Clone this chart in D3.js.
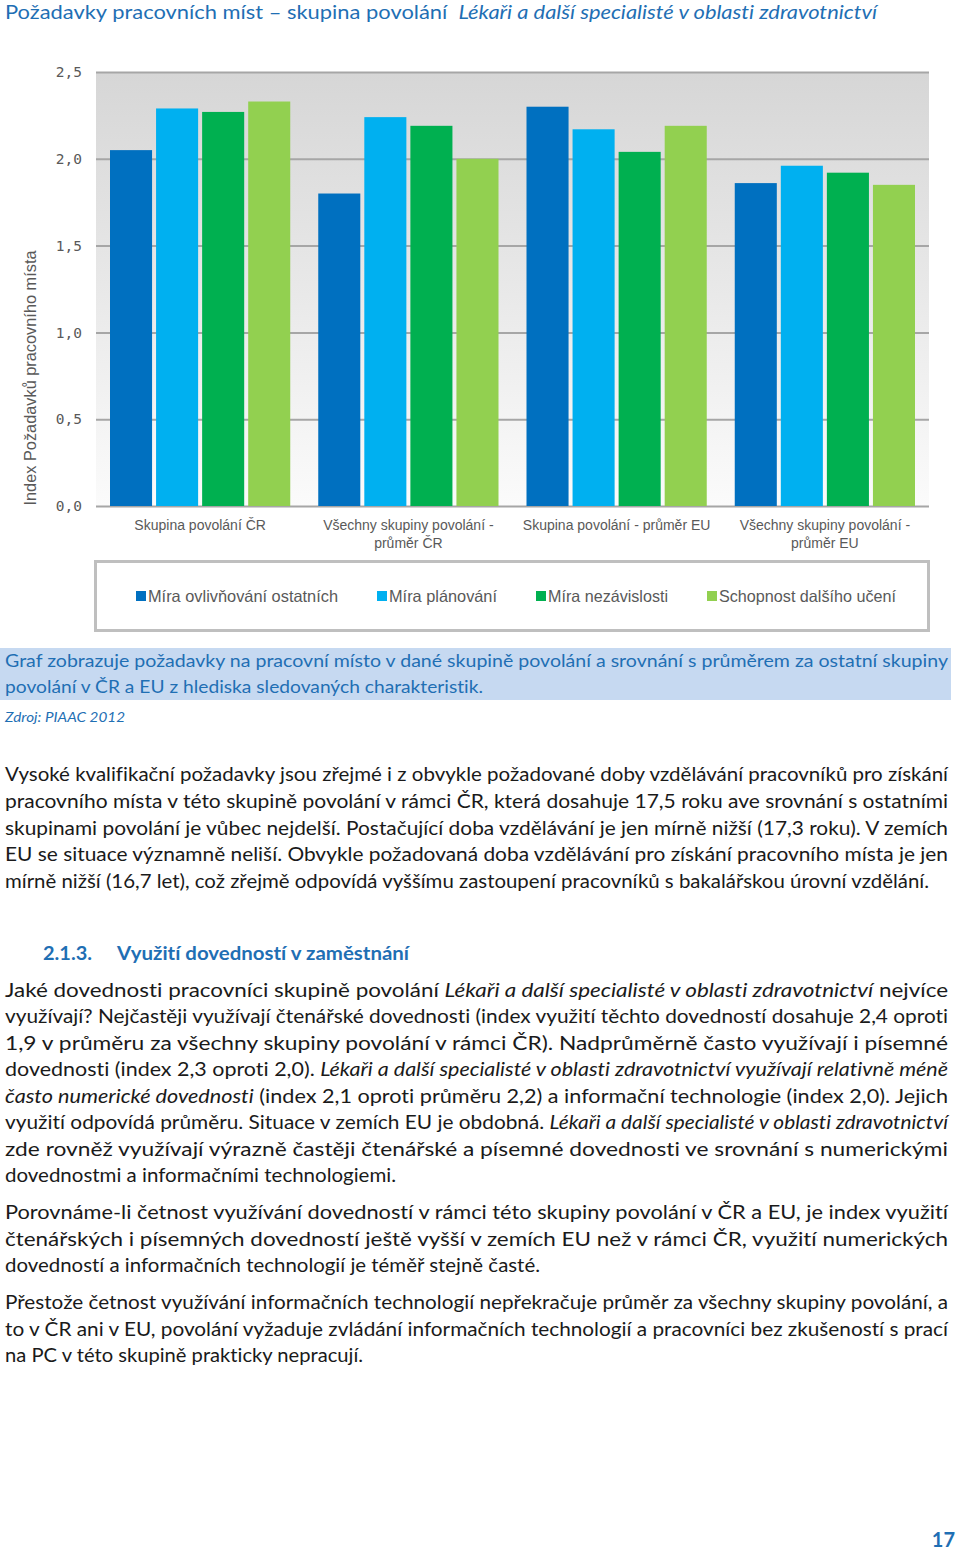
<!DOCTYPE html>
<html><head><meta charset="utf-8">
<script src="https://cdn.jsdelivr.net/npm/d3@7"></script>
<style>body{margin:0;background:#fff}svg{display:block}text{font-variant-ligatures:none;font-feature-settings:"liga" 0}</style>
</head><body>
<script>
// ---------- DATA ----------
const categories = [["Skupina povolání ČR"], ["Všechny skupiny povolání -", "průměr ČR"], ["Skupina povolání - průměr EU"], ["Všechny skupiny povolání -", "průměr EU"]];
const seriesNames = ["Míra ovlivňování ostatních", "Míra plánování", "Míra nezávislosti", "Schopnost dalšího učení"];
const seriesColors = ["#0070c0", "#00b0f0", "#00b050", "#92d050"];
const vOvlivnovani = [2.05, 1.80, 2.30, 1.86];
const vPlanovani   = [2.29, 2.24, 2.17, 1.96];
const vNezavislost = [2.27, 2.19, 2.04, 1.92];
const vUceni       = [2.33, 2.00, 2.19, 1.85];
const seriesValues = [vOvlivnovani, vPlanovani, vNezavislost, vUceni];
const yTicks = [0, 0.5, 1.0, 1.5, 2.0, 2.5];
const yTickLabels = ["0,0", "0,5", "1,0", "1,5", "2,0", "2,5"];
const yTitle = "Index Požadavků pracovního místa";

const titleMain = "Požadavky pracovních míst – skupina povolání";
const titleItalic = "Lékaři a další specialisté v oblasti zdravotnictví";
const captionLines = ["Graf zobrazuje požadavky na pracovní místo v dané skupině povolání a srovnání s průměrem za ostatní skupiny", "povolání v ČR a EU z hlediska sledovaných charakteristik."];
const sourceText = "Zdroj: PIAAC 2012";
const headingNum = "2.1.3.";
const headingText = "Využití dovedností v zaměstnání";
// paragraphs: each line = segments [text, italic], plus end (1 = justified)
const para1 = [
  [[["Vysoké kvalifikační požadavky jsou zřejmé i z obvykle požadované doby vzdělávání pracovníků pro získání",0]], 1],
  [[["pracovního místa v této skupině povolání v rámci ČR, která dosahuje 17,5 roku ave srovnání s ostatními",0]], 1],
  [[["skupinami povolání je vůbec nejdelší. Postačující doba vzdělávání je jen mírně nižší (17,3 roku). V zemích",0]], 1],
  [[["EU se situace významně neliší. Obvykle požadovaná doba vzdělávání pro získání pracovního místa je jen",0]], 1],
  [[["mírně nižší (16,7 let), což zřejmě odpovídá vyššímu zastoupení pracovníků s bakalářskou úrovní vzdělání.",0]], 929]
];
const para2 = [
  [[["Jaké dovednosti pracovníci skupině povolání ",0],["Lékaři a další specialisté v oblasti zdravotnictví",1],[" nejvíce",0]], 1],
  [[["využívají? Nejčastěji využívají čtenářské dovednosti (index využití těchto dovedností dosahuje 2,4 oproti",0]], 1],
  [[["1,9 v průměru za všechny skupiny povolání v rámci ČR). Nadprůměrně často využívají i písemné",0]], 1],
  [[["dovednosti (index 2,3 oproti 2,0). ",0],["Lékaři a další specialisté v oblasti zdravotnictví využívají relativně méně",1]], 1],
  [[["často numerické dovednosti",1],[" (index 2,1 oproti průměru 2,2) a informační technologie (index 2,0). Jejich",0]], 1],
  [[["využití odpovídá průměru. Situace v zemích EU je obdobná. ",0],["Lékaři a další specialisté v oblasti zdravotnictví",1]], 1],
  [[["zde rovněž využívají výrazně častěji čtenářské a písemné dovednosti ve srovnání s numerickými",0]], 1],
  [[["dovednostmi a informačními technologiemi.",0]], 396]
];
const para3 = [
  [[["Porovnáme-li četnost využívání dovedností v rámci této skupiny povolání v ČR a EU, je index využití",0]], 1],
  [[["čtenářských i písemných dovedností ještě vyšší v zemích EU než v rámci ČR, využití numerických",0]], 1],
  [[["dovedností a informačních technologií je téměř stejně časté.",0]], 540]
];
const para4 = [
  [[["Přestože četnost využívání informačních technologií nepřekračuje průměr za všechny skupiny povolání, a",0]], 1],
  [[["to v ČR ani v EU, povolání vyžaduje zvládání informačních technologií a pracovníci bez zkušeností s prací",0]], 1],
  [[["na PC v této skupině prakticky nepracují.",0]], 363]
];
const pageNumber = "17";

// ---------- DRAW ----------
const W = 960, H = 1551;
const svg = d3.select("body").append("svg").attr("width", W).attr("height", H);
svg.append("rect").attr("width", W).attr("height", H).attr("fill", "#fff");
const blue = "#1f6fb4";
const bodyFont = "Lato, 'Open Sans', sans-serif";

// title
const t = svg.append("text").attr("x", 5).attr("y", 19).attr("font-family", bodyFont)
  .attr("font-size", 20).attr("fill", blue).attr("textLength", 872).attr("lengthAdjust", "spacingAndGlyphs");
t.append("tspan").text(titleMain + "\u00a0\u00a0");
t.append("tspan").attr("font-style", "italic").text(titleItalic);

// chart
const plot = {l: 96, r: 929, t: 72, b: 506};
const defs = svg.append("defs");
const grad = defs.append("linearGradient").attr("id", "bg").attr("x1", 0).attr("y1", 0).attr("x2", 0).attr("y2", 1);
grad.append("stop").attr("offset", "0%").attr("stop-color", "#d6d6d6");
grad.append("stop").attr("offset", "100%").attr("stop-color", "#fbfbfb");
svg.append("rect").attr("x", plot.l).attr("y", plot.t).attr("width", plot.r - plot.l).attr("height", plot.b - plot.t).attr("fill", "url(#bg)");

const y = d3.scaleLinear().domain([0, 2.5]).range([plot.b, plot.t]);
const x0 = d3.scaleBand().domain(d3.range(categories.length)).range([plot.l, plot.r]).padding(0);
const x1 = d3.scaleBand().domain(d3.range(seriesNames.length)).range([14, x0.bandwidth() - 14]).paddingInner(4 / 46).paddingOuter(0);

const yAxis = d3.axisLeft(y).tickValues(yTicks).tickSize(-(plot.r - plot.l)).tickFormat((d, i) => yTickLabels[i]).tickPadding(14);
const ga = svg.append("g").attr("transform", `translate(${plot.l},0)`).call(yAxis);
ga.select(".domain").remove();
ga.selectAll(".tick line").attr("stroke", "#a6a6a6").attr("stroke-width", 2);
ga.selectAll(".tick text").attr("font-family", "'DejaVu Sans Mono', monospace").attr("font-size", 14.5).attr("fill", "#595959");

const groups = svg.append("g").selectAll("g").data(categories).join("g")
  .attr("transform", (d, i) => `translate(${x0(i)},0)`);
groups.selectAll("rect").data((d, i) => seriesValues.map((s, k) => ({k, v: s[i]}))).join("rect")
  .attr("x", d => x1(d.k)).attr("width", x1.bandwidth())
  .attr("y", d => y(d.v)).attr("height", d => y(0) - y(d.v))
  .attr("fill", d => seriesColors[d.k]);

// x labels
groups.each(function(lines) {
  const g = d3.select(this);
  lines.forEach((ln, j) => {
    g.append("text").attr("x", x0.bandwidth() / 2).attr("y", 530 + j * 18).attr("text-anchor", "middle")
      .attr("font-family", "'Liberation Sans', Arial, sans-serif").attr("font-size", 14).attr("fill", "#595959").text(ln);
  });
});

// y title
svg.append("text").attr("transform", `translate(36,${(250 + 506) / 2}) rotate(-90)`).attr("text-anchor", "middle")
  .attr("font-family", "'Liberation Sans', Arial, sans-serif").attr("font-size", 17).attr("fill", "#595959")
  .attr("textLength", 255).attr("lengthAdjust", "spacingAndGlyphs").text(yTitle);

// legend
svg.append("rect").attr("x", 95.5).attr("y", 561.5).attr("width", 833).attr("height", 69)
  .attr("fill", "#fff").attr("stroke", "#bfbfbf").attr("stroke-width", 3);
const legX = [136, 377, 536, 707];
const legW = [190, 108, 120, 177];
const leg = svg.append("g").selectAll("g").data(seriesNames).join("g").attr("transform", (d, i) => `translate(${legX[i]},596)`);
leg.append("rect").attr("x", 0).attr("y", -5).attr("width", 10).attr("height", 10).attr("fill", (d, i) => seriesColors[i]);
leg.append("text").attr("x", 12).attr("y", 6).attr("font-family", "'Liberation Sans', Arial, sans-serif").attr("font-size", 16.5)
  .attr("fill", "#595959").attr("textLength", (d, i) => legW[i]).attr("lengthAdjust", "spacingAndGlyphs").text(d => d);

// caption
svg.append("rect").attr("x", 0).attr("y", 648).attr("width", 951).attr("height", 52).attr("fill", "#c6d9f1");
const capEnds = [948, 483];
captionLines.forEach((ln, i) => {
  svg.append("text").attr("x", 5).attr("y", 667 + i * 26).attr("font-family", bodyFont).attr("font-size", 18).attr("fill", blue)
    .attr("textLength", capEnds[i] - 5).attr("lengthAdjust", "spacingAndGlyphs").text(ln);
});
svg.append("text").attr("x", 5).attr("y", 722).attr("font-family", bodyFont).attr("font-size", 14).attr("font-style", "italic")
  .attr("fill", blue).attr("textLength", 120).attr("lengthAdjust", "spacingAndGlyphs").text(sourceText);

// paragraphs
function drawPara(lines, startBase, lh) {
  lines.forEach((ln, i) => {
    const [segs, end] = ln;
    const tx = svg.append("text").attr("x", 5).attr("y", startBase + i * lh).attr("font-family", bodyFont)
      .attr("font-size", 18.5).attr("fill", "#1a1a1a")
      .attr("textLength", (end === 1 ? 948 : end) - 5).attr("lengthAdjust", "spacingAndGlyphs");
    segs.forEach(([s, it]) => {
      const sp = tx.append("tspan").text(s);
      if (it) sp.attr("font-style", "italic");
    });
  });
}
drawPara(para1, 781, 26.8);
svg.append("text").attr("x", 43).attr("y", 960).attr("font-family", bodyFont).attr("font-weight", "bold").attr("font-size", 18.5)
  .attr("fill", blue).attr("textLength", 49).attr("lengthAdjust", "spacingAndGlyphs").text(headingNum);
svg.append("text").attr("x", 117).attr("y", 960).attr("font-family", bodyFont).attr("font-weight", "bold").attr("font-size", 18.5)
  .attr("fill", blue).attr("textLength", 292).attr("lengthAdjust", "spacingAndGlyphs").text(headingText);
drawPara(para2, 997, 26.45);
drawPara(para3, 1219, 26.5);
drawPara(para4, 1309, 26.5);

svg.append("text").attr("x", 955).attr("y", 1547).attr("text-anchor", "end").attr("font-family", bodyFont).attr("font-weight", "bold")
  .attr("font-size", 20).attr("fill", blue).text(pageNumber);
</script>
</body></html>
